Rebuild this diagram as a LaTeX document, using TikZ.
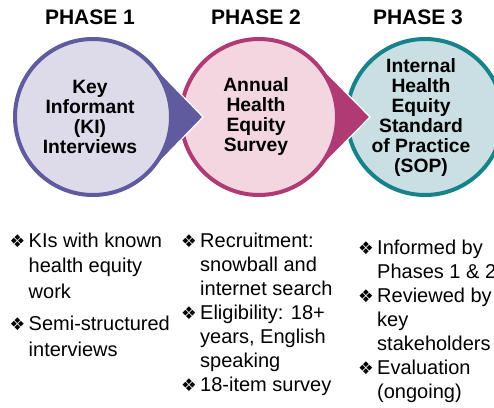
\documentclass[tikz,border=0pt]{standalone}
\usepackage{fontspec}
\setmainfont{Liberation Sans}
\newfontfamily\dingfont{DejaVu Sans}
\usepackage{xcolor}
\usepackage{tikz}
\usetikzlibrary{shapes,arrows}
\definecolor{kidark}{HTML}{5F5B9E}
\definecolor{kilight}{HTML}{DDDBEA}
\definecolor{surveydark}{HTML}{B03A73}
\definecolor{surveylight}{HTML}{F3D6E0}
\definecolor{sopdark}{HTML}{16838A}
\definecolor{soplight}{HTML}{C9DFE3}
\newcommand{\diamondbullet}{\makebox[19pt][l]{\dingfont\fontsize{17.5}{18}\selectfont ❖}}

\begin{document}
\begin{tikzpicture}[x=1pt, y=-1pt,
    phasetitle/.style={inner sep=0pt, font=\bfseries\fontsize{21}{24}\selectfont},
    circletext/.style={inner sep=0pt, align=center, font=\bfseries\fontsize{19.3}{20}\selectfont},
    bulletlist/.style={inner sep=0pt, anchor=base west, font=\fontsize{20}{24}\selectfont}]
      \useasboundingbox (0,0) rectangle (494,407);

      % Phase titles
      \node[phasetitle] (titleone) at (90,17.5) {PHASE 1};
      \node[phasetitle] (titletwo) at (256,17.5) {PHASE 2};
      \node[phasetitle] (titlethree) at (418,17.5) {PHASE 3};

      % Phase 3 circle, cut by the right edge
      \draw[line width=4, draw=sopdark, fill=soplight] (425,117) circle[radius=78];

      % Phase 2 drop, its point lies on the phase 3 circle
      \draw[line width=1.2, draw=white, fill=surveydark] (259,117) ++(44:79) arc[start angle=44, end angle=316, radius=79] -- (370,117) -- cycle;
      \draw[line width=4, draw=surveydark, fill=surveylight] (259,117) circle[radius=78];

      % Phase 1 drop, its point lies on the phase 2 circle
      \draw[line width=1.2, draw=white, fill=kidark] (93,117) ++(44:79) arc[start angle=44, end angle=316, radius=79] -- (203,117) -- cycle;
      \draw[line width=4, draw=kidark, fill=kilight] (93,117) circle[radius=78];

      % Circle texts
      \node[circletext] (kitext) at (90,117) {Key\\Informant\\(KI)\\Interviews};
      \node[circletext] (surveytext) at (256,117) {Annual\\Health\\Equity\\Survey};
      \node[circletext] (soptext) at (421,118) {Internal\\Health\\Equity\\Standard\\of Practice\\(SOP)};

      % Bullet lists under the circles
      \node[bulletlist, font=\fontsize{20}{25.5}\selectfont] (kilist) at (9.5,247) {\begin{tabular}[t]{@{}l@{}l@{}}
        \diamondbullet & KIs with known\\
         & health equity\\
         & work\\[7pt]
        \diamondbullet & Semi-structured\\
         & interviews
      \end{tabular}};
      \node[bulletlist] (surveylist) at (181,247) {\begin{tabular}[t]{@{}l@{}l@{}}
        \diamondbullet & Recruitment:\\
         & snowball and\\
         & internet search\\
        \diamondbullet & Eligibility: 18+\\
         & years, English\\
         & speaking\\
        \diamondbullet & 18-item survey
      \end{tabular}};
      \node[bulletlist] (soplist) at (358,254) {\begin{tabular}[t]{@{}l@{}l@{}}
        \diamondbullet & Informed by\\
         & Phases 1 \& 2\\
        \diamondbullet & Reviewed by\\
         & key\\
         & stakeholders\\
        \diamondbullet & Evaluation\\
         & (ongoing)
      \end{tabular}};
\end{tikzpicture}
\end{document}
